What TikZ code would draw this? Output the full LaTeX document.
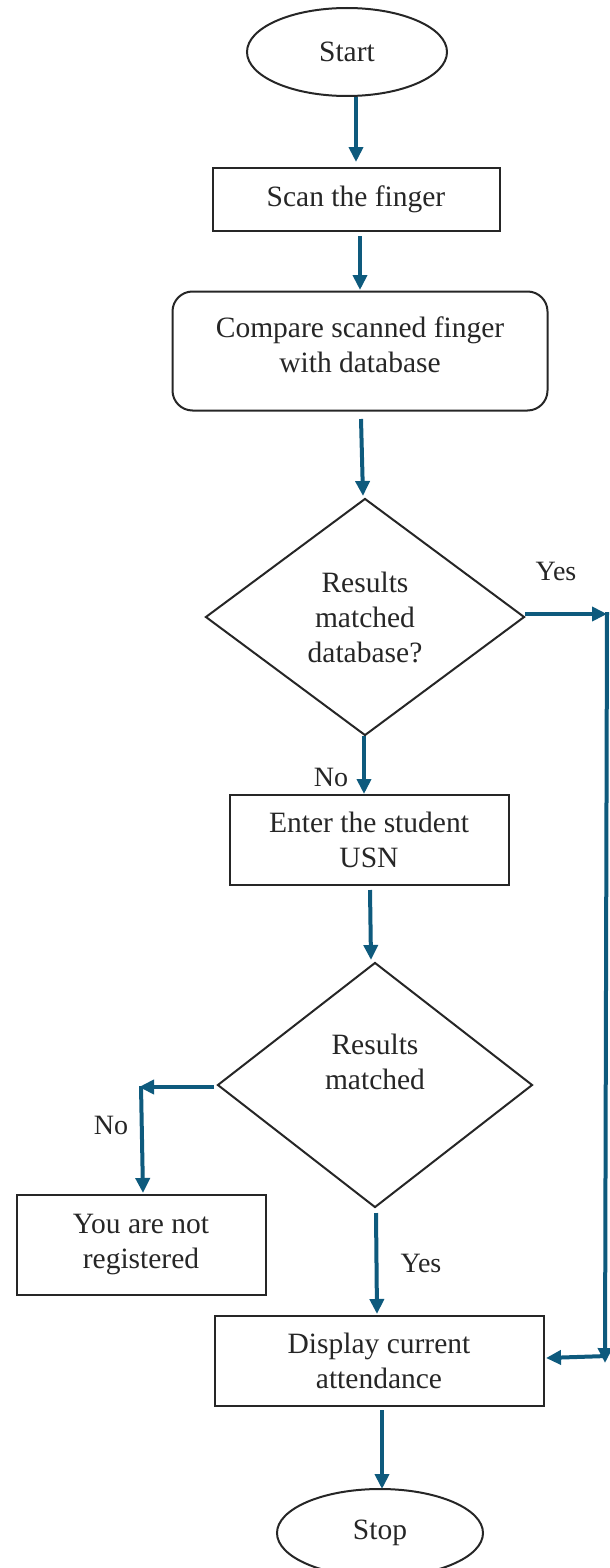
\documentclass[tikz,border=0pt]{standalone}
\usepackage{fontspec}
\setmainfont{Liberation Serif}
\usetikzlibrary{shapes.geometric,arrows.meta}
\definecolor{arr}{RGB}{14,90,125}
\begin{document}
\begin{tikzpicture}[x=1pt,y=-1pt,
  every node/.style={font=\fontsize{29.5}{35}\selectfont, align=center, text=black!85},
  term/.style={ellipse, draw=black!85, line width=2pt, inner sep=0pt},
  proc/.style={rectangle, draw=black!85, line width=2pt, inner sep=0pt},
  dec/.style={diamond, draw=black!85, line width=2pt, inner sep=0pt},
  flow/.style={draw=arr, line width=4pt, -{Triangle[length=15pt,width=14pt]}},
  lbl/.style={font=\fontsize{28}{32}\selectfont}]
\useasboundingbox (0,0) rectangle (610,1568);
\clip (0,0) rectangle (610,1568);
\node[term, minimum width=200pt, minimum height=88pt] (start) at (347,52) {Start};
\node[proc, minimum width=287pt, minimum height=63pt] (scan) at (356,199) {Scan the finger};
\node[proc, rounded corners=20pt, minimum width=375pt, minimum height=119pt] (cmp) at (360,351) {Compare scanned finger\\with database\\[-32pt]\strut};
\node[dec, minimum width=319pt, minimum height=237pt] (d1) at (365,617) {Results\\matched\\database?};
\node[proc, minimum width=279pt, minimum height=90pt] (usn) at (369,840) {Enter the student\\USN};
\node[dec, minimum width=315pt, minimum height=245pt] (d2) at (375,1085) {Results\\matched\\\strut};
\node[proc, minimum width=249pt, minimum height=100pt] (nr) at (141,1245) {You are not\\registered};
\node[proc, minimum width=329pt, minimum height=90pt] (disp) at (379,1361) {Display current\\attendance};
\node[term, minimum width=206pt, minimum height=88pt] (stop) at (380,1533) {Stop};

\coordinate (s1) at (356,97);
\coordinate (e1) at (356,162);
\draw[flow] (s1) -- (e1);
\coordinate (s2) at (360,236);
\coordinate (e2) at (360,290);
\draw[flow] (s2) -- (e2);
\coordinate (s3) at (361,419);
\coordinate (e3) at (363,496);
\draw[flow] (s3) -- (e3);
% yes branch
\coordinate (y0) at (525,614);
\coordinate (y1) at (607,614);
\draw[flow] (y0) -- (y1);
\coordinate (y2) at (607,612);
\coordinate (y3) at (605,1363);
\draw[flow] (y2) -- (y3);
\coordinate (y4) at (607,1356);
\coordinate (y5) at (546,1358);
\draw[flow] (y4) -- (y5);
\node[lbl] (yes1) at (556,571) {Yes};
% no branch 1
\coordinate (n0) at (364,736);
\coordinate (n1) at (364,794);
\draw[flow] (n0) -- (n1);
\node[lbl] (no1) at (331,777) {No};
\coordinate (s4) at (370,890);
\coordinate (e4) at (371,960);
\draw[flow] (s4) -- (e4);
% no branch 2
\coordinate (l1) at (214,1087);
\coordinate (l2) at (139,1087);
\draw[flow] (l1) -- (l2);
\coordinate (l3) at (141,1086);
\coordinate (l4) at (143,1193);
\draw[flow] (l3) -- (l4);
\node[lbl] (no2) at (111,1125) {No};
% yes branch 2
\coordinate (s5) at (376,1213);
\coordinate (e5) at (377,1314);
\draw[flow] (s5) -- (e5);
\node[lbl] (yes2) at (421,1263) {Yes};
\coordinate (s6) at (382,1410);
\coordinate (e6) at (382,1489);
\draw[flow] (s6) -- (e6);
\end{tikzpicture}
\end{document}
